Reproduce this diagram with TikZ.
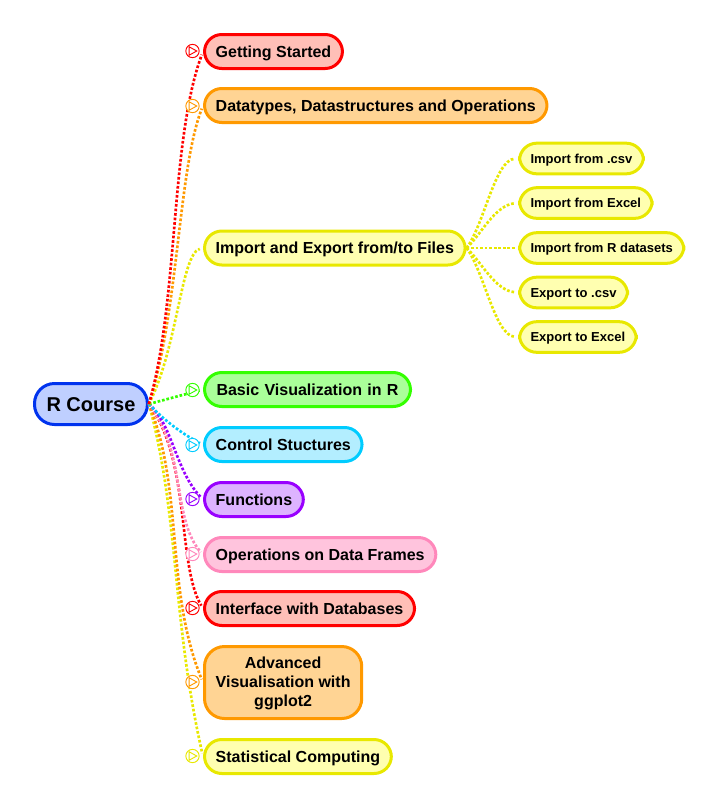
\documentclass[tikz,border=0pt]{standalone}
\usepackage{fontspec}
\setmainfont{Liberation Sans}
\usetikzlibrary{positioning,shapes,arrows,fit,shapes.geometric}
\definecolor{redline}{HTML}{FF0000}
\definecolor{redfill}{HTML}{FFBFB7}
\definecolor{orangeline}{HTML}{FF9900}
\definecolor{orangefill}{HTML}{FFD494}
\definecolor{yellowline}{HTML}{E8E800}
\definecolor{yellowfill}{HTML}{FFFFB0}
\definecolor{greenline}{HTML}{33FF00}
\definecolor{greenfill}{HTML}{AAFF99}
\definecolor{cyanline}{HTML}{00CCFF}
\definecolor{cyanfill}{HTML}{B3EEFF}
\definecolor{purpleline}{HTML}{9900FF}
\definecolor{purplefill}{HTML}{DDB3FF}
\definecolor{pinkline}{HTML}{FF88BB}
\definecolor{pinkfill}{HTML}{FFC4DD}
\definecolor{blueline}{HTML}{0033EE}
\definecolor{bluefill}{HTML}{BFCFFF}
\begin{document}
\begin{tikzpicture}[
		x=0.75pt, y=-0.75pt,
		every text node part/.style={align=center},
		box/.style = {draw=#1line, fill=#1fill, line width=2.25pt, anchor=west, rounded corners=13pt},
		topic/.style = {box=#1, minimum height=25.5pt, inner xsep=8.4pt, inner ysep=2pt,
			text height=8.6pt, text depth=0pt,
			font=\fontsize{12}{14.25}\selectfont\bfseries},
		sub/.style = {box=yellow, minimum height=23pt, inner xsep=8.3pt, inner ysep=2pt,
			text height=7pt, text depth=0pt,
			font=\fontsize{9.75}{12}\selectfont\bfseries},
		link/.style = {draw=#1line, line width=2pt, dash pattern=on 2pt off 1.4pt, shorten >=2.5pt},
		marker/.style = {circle, draw=#1line, fill=white, line width=0.7pt, inner sep=0pt, minimum size=10pt,
			path picture={
				\draw[#1line, line width=0.7pt] ([xshift=-2.6pt,yshift=3.2pt]path picture bounding box.center)
				-- ([xshift=3.2pt]path picture bounding box.center)
				-- ([xshift=-2.6pt,yshift=-3.2pt]path picture bounding box.center) -- cycle;}}
	]
	\useasboundingbox (0,0) rectangle (718,808);
	
	\node(root)[box=blue, minimum height=30.75pt, inner xsep=9pt, rounded corners=15pt,
		text height=10.8pt, text depth=0pt,
		font=\fontsize{15}{18}\selectfont\bfseries] at (33,404) {R Course};
	
	\node(started)[topic=red] at (203,51.5) {Getting Started};
	\node(datatypes)[topic=orange] at (203,105.5) {Datatypes, Datastructures and Operations};
	\node(files)[topic=yellow] at (203,248) {Import and Export from/to Files};
	\node(basic)[topic=green, text width=137.7pt, align=left] at (203,389.5) {Basic Visualization in R};
	\node(control)[topic=cyan] at (203,444.5) {Control Stuctures};
	\node(functions)[topic=purple] at (203,499.5) {Functions};
	\node(frames)[topic=pink] at (203,554.5) {Operations on Data Frames};
	\node(databases)[topic=red] at (203,608.5) {Interface with Databases};
	\node(ggplot)[topic=orange, rounded corners=15pt, minimum height=54pt, text height=35.6pt] at (203,682.5) {Advanced\\Visualisation with\\ggplot2};
	\node(statistical)[topic=yellow] at (203,756.5) {Statistical Computing};
	
	\node(csvin)[sub] at (518,158.5) {Import from .csv};
	\node(excelin)[sub] at (518,203) {Import from Excel};
	\node(datasets)[sub] at (518,248) {Import from R datasets};
	\node(csvout)[sub] at (518,292.5) {Export to .csv};
	\node(excelout)[sub] at (518,337) {Export to Excel};
	
	% main branches, far ones first
	\draw[link=yellow] (root.east) .. controls +(30,110) and +(-31,-136.5) .. (statistical.west);
	\draw[link=orange] (root.east) .. controls +(35,86) and +(-38,-92.5) .. (ggplot.west);
	\draw[link=red] (root.east) .. controls +(42,56) and +(-26,-43.5) .. (databases.west);
	\draw[link=pink] (root.east) .. controls +(37,46) and +(-31,-34.5) .. (frames.west);
	\draw[link=purple] (root.east) .. controls +(24,21) and +(-28,-29.5) .. (functions.west);
	\draw[link=cyan] (root.east) .. controls +(10,11) and +(-25,-12.5) .. (control.west);
	\draw[link=green] (root.east) -- (basic.west);
	\draw[link=yellow] (root.east) .. controls +(29,-57) and +(-22,6) .. (files.west);
	\draw[link=orange] (root.east) .. controls +(30,-94) and +(-25,64.5) .. (datatypes.west);
	\draw[link=red] (root.east) .. controls +(30,-104) and +(-33,88.5) .. (started.west);
	
	\draw[link=yellow] (files.east) .. controls +(18,-25) and +(-23,1.5) .. (csvin.west);
	\draw[link=yellow] (files.east) .. controls +(14,-13) and +(-23,2) .. (excelin.west);
	\draw[link=yellow] (files.east) -- (datasets.west);
	\draw[link=yellow] (files.east) .. controls +(14,13) and +(-23,-2) .. (csvout.west);
	\draw[link=yellow] (files.east) .. controls +(18,25) and +(-23,-1.5) .. (excelout.west);
	
	% round marks sit on top of the branches
	\foreach \target/\shade/\ypos in {started/red/51, datatypes/orange/106, basic/green/390,
		control/cyan/445, functions/purple/499, frames/pink/554, databases/red/608,
		ggplot/orange/682, statistical/yellow/756}
		\node(mark-\target)[marker=\shade] at (192.5,\ypos) {};
\end{tikzpicture}
\end{document}
